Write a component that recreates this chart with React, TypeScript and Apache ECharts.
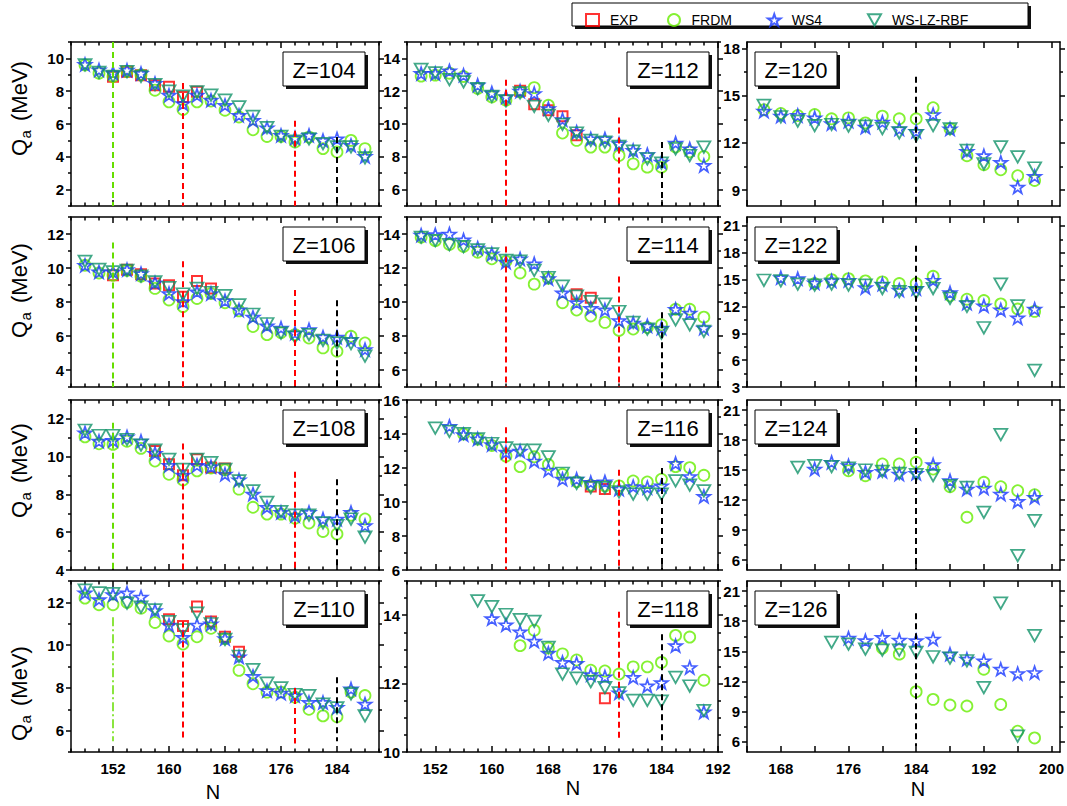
import React, { useEffect, useRef } from "react";
import * as echarts from "echarts";

// ---------------- data ----------------
const N_148_188 = [148, 150, 152, 154, 156, 158, 160, 162, 164, 166, 168, 170, 172, 174, 176, 178, 180, 182, 184, 186, 188];
const N_150_190 = [150, 152, 154, 156, 158, 160, 162, 164, 166, 168, 170, 172, 174, 176, 178, 180, 182, 184, 186, 188, 190];
const N_152_190 = [152, 154, 156, 158, 160, 162, 164, 166, 168, 170, 172, 174, 176, 178, 180, 182, 184, 186, 188, 190];
const N_158_190 = [158, 160, 162, 164, 166, 168, 170, 172, 174, 176, 178, 180, 182, 184, 186, 188, 190];
const N_166_198 = [166, 168, 170, 172, 174, 176, 178, 180, 182, 184, 186, 188, 190, 192, 194, 196, 198];
const N_170_198 = [170, 172, 174, 176, 178, 180, 182, 184, 186, 188, 190, 192, 194, 196, 198];
const N_174_198 = [174, 176, 178, 180, 182, 184, 186, 188, 190, 192, 194, 196, 198];

// Z = 104
const FRDM_104 = [9.6, 9.1, 8.9, 9.2, 9.0, 8.06, 7.35, 6.88, 7.35, 7.4, 6.84, 6.43, 5.65, 5.24, 5.24, 4.9, 5.2, 4.5, 4.29, 5.0, 4.5];
const WS4_104 = [9.63, 9.3, 9.12, 9.28, 9.08, 8.47, 7.76, 7.24, 7.76, 7.45, 7.14, 6.53, 6.22, 5.76, 5.31, 5.16, 5.31, 5.0, 5.1, 4.7, 4.02];
const LZ_104 = [9.6, 9.15, 8.9, 9.2, 8.9, 8.4, 8.0, 7.7, 7.96, 7.76, 7.45, 7.04, 6.47, 5.78, 5.24, 4.96, 5.1, 4.8, 4.6, 4.6, 3.94];
const EXP_N_104 = [152, 154, 156, 158, 160, 162, 164];
const EXP_104 = [8.88, 9.18, 8.98, 8.37, 8.27, 7.65, 7.96];

// Z = 106
const FRDM_106 = [10.16, 9.71, 9.57, 9.86, 9.51, 8.8, 8.12, 7.73, 8.21, 8.5, 7.96, 7.48, 6.56, 6.08, 6.2, 6.08, 5.88, 5.3, 5.1, 5.98, 5.59];
const WS4_106 = [10.16, 9.77, 9.77, 9.9, 9.67, 9.13, 8.5, 8.02, 8.6, 8.5, 8.08, 7.53, 7.11, 6.6, 6.47, 6.17, 6.37, 5.94, 5.94, 5.79, 5.2];
const LZ_106 = [10.39, 9.92, 9.77, 9.86, 9.53, 9.18, 8.85, 8.47, 8.8, 8.56, 8.37, 7.83, 7.28, 6.72, 6.17, 5.94, 6.08, 5.75, 5.59, 5.55, 4.82];
const EXP_N_106 = [152, 154, 156, 158, 160, 162, 164, 166];
const EXP_106 = [9.57, 9.9, 9.63, 9.09, 8.99, 8.31, 9.24, 8.8];

// Z = 108
const FRDM_108 = [11.05, 10.68, 10.65, 10.82, 10.44, 9.77, 9.07, 8.77, 9.25, 9.4, 9.3, 8.28, 7.32, 6.96, 6.96, 6.74, 6.49, 6.04, 5.91, 6.9, 6.7];
const WS4_108 = [11.26, 10.82, 10.86, 11.05, 10.82, 10.18, 9.54, 9.02, 9.54, 9.47, 9.07, 8.77, 8.02, 7.32, 7.05, 6.88, 7.05, 6.7, 6.7, 7.05, 6.35];
const LZ_108 = [11.4, 11.12, 11.12, 10.91, 10.61, 10.35, 9.86, 9.33, 9.86, 9.68, 9.33, 8.72, 8.19, 7.58, 7.09, 6.91, 6.91, 6.49, 6.35, 6.7, 5.74];
const EXP_N_108 = [158, 160, 162, 164, 166, 168];
const EXP_108 = [10.3, 9.6, 9.02, 9.86, 9.42, 9.37];

// Z = 110
const FRDM_110 = [12.2, 11.89, 11.89, 12.0, 11.73, 11.06, 10.43, 10.05, 10.39, 10.79, 10.3, 8.82, 8.19, 7.8, 7.8, 7.56, 7.0, 6.69, 6.65, 7.8, 7.64];
const WS4_110 = [12.44, 12.13, 12.36, 12.44, 12.25, 11.62, 10.94, 10.36, 10.94, 11.0, 10.31, 9.45, 8.54, 7.87, 7.75, 7.64, 7.32, 7.32, 7.09, 7.95, 7.24];
const LZ_110 = [12.57, 12.44, 12.41, 11.97, 11.78, 11.65, 11.1, 10.71, 11.5, 11.0, 10.27, 9.48, 8.85, 8.22, 8.0, 7.69, 7.64, 7.24, 7.06, 7.72, 6.69];
const EXP_N_110 = [160, 162, 164, 166, 168, 170];
const EXP_110 = [11.21, 10.9, 11.81, 11.1, 10.39, 9.69];

// Z = 112
const FRDM_112 = [12.92, 12.98, 13.1, 12.9, 12.16, 11.65, 11.45, 11.96, 12.22, 11.14, 9.45, 9.0, 8.59, 8.59, 8.08, 7.57, 7.37, 7.37, 8.6, 8.3, 8.02];
const WS4_112 = [13.08, 13.08, 13.24, 12.98, 12.37, 11.9, 11.65, 12.0, 11.86, 10.94, 10.27, 9.51, 9.1, 9.1, 8.8, 8.39, 8.14, 7.67, 8.84, 8.49, 7.47];
const LZ_112 = [13.33, 13.12, 12.71, 12.57, 12.16, 11.69, 11.41, 11.9, 11.08, 10.53, 9.98, 9.45, 9.0, 8.9, 8.63, 8.35, 7.88, 7.61, 8.49, 8.08, 8.59];
const EXP_N_112 = [164, 166, 168, 170, 172];
const EXP_112 = [12.02, 11.2, 10.84, 10.47, 9.31];

// Z = 114
const FRDM_114 = [13.81, 13.61, 13.38, 13.26, 12.93, 12.54, 12.4, 11.71, 11.05, 11.4, 9.96, 9.53, 9.18, 8.8, 8.33, 8.41, 8.5, 8.66, 9.57, 9.57, 9.11];
const WS4_114 = [13.94, 13.96, 14.0, 13.65, 13.17, 12.83, 12.35, 12.54, 12.25, 11.38, 10.54, 9.96, 9.63, 9.53, 8.91, 8.76, 8.6, 8.47, 9.57, 9.34, 8.47];
const LZ_114 = [13.81, 13.61, 13.38, 13.26, 13.07, 12.83, 12.45, 12.41, 11.86, 11.44, 10.93, 10.35, 10.02, 9.88, 9.44, 8.8, 8.41, 8.17, 8.95, 8.66, 8.27];
const EXP_N_114 = [172, 174];
const EXP_114 = [10.45, 10.25];

// Z = 116
const FRDM_116 = [null, null, 14.0, 13.7, 13.32, 12.7, 12.08, 12.66, 12.21, 11.63, 11.2, 10.99, 10.95, 10.95, 11.24, 11.18, 11.34, 12.08, 12.02, 11.57];
const WS4_116 = [null, 14.45, 13.96, 13.71, 13.38, 12.93, 12.99, 12.41, 11.88, 11.34, 11.34, 11.15, 11.19, 10.76, 10.91, 10.85, 10.95, 12.27, 11.5, 10.33];
const LZ_116 = [14.35, 14.16, 14.02, 13.71, 13.44, 13.18, 13.05, 13.05, 12.66, 11.69, 11.1, 10.85, 10.85, 10.6, 10.47, 10.47, 10.47, 11.24, 10.99, 10.66];
const EXP_N_116 = [174, 176];
const EXP_116 = [10.91, 10.76];

// Z = 118
const FRDM_118 = [null, null, null, 13.11, 13.56, 13.04, 12.87, 12.69, 12.39, 12.37, 12.28, 12.49, 12.49, 12.62, 13.41, 13.36, 12.1];
const WS4_118 = [null, 13.9, 13.72, 13.51, 13.24, 12.89, 12.62, 12.59, 12.26, 12.2, 11.73, 12.18, 11.93, 12.03, 13.11, 12.47, 11.17];
const LZ_118 = [14.42, 14.25, 14.02, 13.87, 13.82, 13.06, 12.28, 12.16, 12.06, 11.88, 11.73, 11.51, 11.51, 11.49, 12.18, 11.93, 11.21];
const EXP_N_118 = [176];
const EXP_118 = [11.57];

// Z = 120
const FRDM_120 = [14.1, 13.87, 13.74, 13.8, 13.53, 13.59, 13.27, 13.7, 13.53, 13.53, 14.23, 12.9, 11.19, 10.62, 10.3, 9.92, 9.62];
const WS4_120 = [14.02, 13.7, 13.74, 13.59, 13.23, 13.38, 13.0, 13.32, 12.89, 12.74, 13.8, 12.89, 11.47, 11.19, 10.77, 9.2, 9.88];
const LZ_120 = [14.38, 13.66, 13.38, 13.1, 13.17, 13.06, 13.06, 12.91, 12.64, 12.47, 13.1, 12.89, 11.53, 10.68, 11.75, 11.11, 10.41];

// Z = 122
const FRDM_122 = [null, null, null, 14.56, 15.0, 15.11, 14.86, 14.75, 14.56, 14.56, 15.37, 13.2, 12.81, 12.66, 12.29, 11.71, 11.45];
const WS4_122 = [null, 15.22, 15.11, 14.64, 14.86, 14.93, 14.12, 14.49, 13.83, 14.01, 14.93, 13.54, 12.37, 12.07, 11.63, 10.72, 11.71];
const LZ_122 = [14.93, 14.86, 14.49, 14.38, 14.49, 14.38, 14.38, 14.01, 13.65, 13.54, 14.01, 12.92, 12.0, 9.62, 14.49, 12.07, 4.86];

// Z = 124
const FRDM_124 = [null, null, null, 14.93, 14.43, 15.6, 15.6, 15.77, 15.1, 13.33, 10.27, 13.77, 13.33, 12.93, 12.53];
const WS4_124 = [null, 15.1, 15.77, 15.43, 14.77, 14.87, 14.6, 14.67, 15.53, 13.93, 13.1, 13.2, 12.6, 11.87, 12.27];
const LZ_124 = [15.27, 15.43, 15.33, 15.2, 15.0, 14.87, 14.67, 14.53, 14.43, 13.43, 13.27, 10.77, 18.53, 6.43, 9.93];

// Z = 126
const FRDM_126 = [null, null, null, 15.33, 14.73, 11.0, 10.23, 9.67, 9.57, 13.23, 9.73, 7.07, 6.4];
const WS4_126 = [null, 16.33, 16.07, 16.4, 16.13, 16.07, 16.23, 14.73, 14.23, 14.07, 13.23, 12.8, 12.9];
const LZ_126 = [15.9, 15.73, 15.23, 15.13, 15.13, 14.9, 14.47, 14.33, 14.07, 11.4, 19.8, 6.57, 16.57];

// axis ticks / labels
const X_MAJOR_1 = [152, 160, 168, 176, 184];
const X_MINOR_1 = [146, 148, 150, 154, 156, 158, 162, 164, 166, 170, 172, 174, 178, 180, 182, 186, 188, 190];
const X_MAJOR_2 = [152, 160, 168, 176, 184, 192];
const X_MINOR_2 = [148, 150, 154, 156, 158, 162, 164, 166, 170, 172, 174, 178, 180, 182, 186, 188, 190];
const X_MAJOR_3 = [168, 176, 184, 192, 200];
const X_MINOR_3 = [164, 172, 180, 188, 196];

const Y_MAJOR_104 = [2, 4, 6, 8, 10];
const Y_MINOR_104 = [1, 3, 5, 7, 9, 11];
const Y_MAJOR_106 = [4, 6, 8, 10, 12];
const Y_MINOR_106 = [3, 5, 7, 9, 11, 13];
const Y_MAJOR_108 = [4, 6, 8, 10, 12];
const Y_MINOR_108 = [5, 7, 9, 11, 13];
const Y_MAJOR_110 = [6, 8, 10, 12];
const Y_MINOR_110 = [5, 7, 9, 11, 13];
const Y_MAJOR_112 = [6, 8, 10, 12, 14];
const Y_MINOR_112 = [5, 7, 9, 11, 13, 15];
const Y_MAJOR_116 = [6, 8, 10, 12, 14, 16];
const Y_MINOR_116 = [7, 9, 11, 13, 15];
const Y_MAJOR_118 = [10, 12, 14];
const Y_MINOR_118 = [10.5, 11, 11.5, 12.5, 13, 13.5, 14.5, 15];
const Y_MAJOR_120 = [9, 12, 15, 18];
const Y_MINOR_120 = [10.5, 13.5, 16.5];
const Y_MAJOR_122 = [3, 6, 9, 12, 15, 18, 21];
const Y_MINOR_122 = [4.5, 7.5, 10.5, 13.5, 16.5, 19.5];
const Y_MAJOR_124 = [6, 9, 12, 15, 18, 21];
const Y_MINOR_124 = [7.5, 10.5, 13.5, 16.5, 19.5];

// ---------------- layout / style ----------------
const FONT = 'Arial, "Liberation Sans", Helvetica, sans-serif';
const C_EXP = "#ff0000";
const C_FRDM = "#66ee00";
const C_WS4 = "#1838ff";
const C_LZ = "#13946a";
const C_GREENLINE = "#66dd00";

const STAR = "path://M50,2 L61.5,36 L97,36 L68.5,57.5 L79,92 L50,71 L21,92 L31.5,57.5 L3,36 L38.5,36 Z";
const TRI = "path://M0,0 L100,0 L50,88 Z";

const COLS = [
  { left: 71, width: 308 },
  { left: 407, width: 311 },
  { left: 747, width: 313 },
];
const ROWS = [
  { top: 42, height: 164 },
  { top: 217, height: 170 },
  { top: 400, height: 170 },
  { top: 581, height: 171 },
];
const XCFG = [
  { min: 146, max: 190, major: X_MAJOR_1, minor: X_MINOR_1 },
  { min: 148, max: 192, major: X_MAJOR_2, minor: X_MINOR_2 },
  { min: 164, max: 201, major: X_MAJOR_3, minor: X_MINOR_3 },
];

type VLine = { n: number; from: number; to: number; kind: "green" | "greendd" | "red" | "black" };

const PANELS = [
  { z: 104, col: 0, row: 0, n: N_148_188, frdm: FRDM_104, ws4: WS4_104, lz: LZ_104, expN: EXP_N_104, exp: EXP_104, y: [1, 11], yMajor: Y_MAJOR_104, yMinor: Y_MINOR_104,
    lines: [{ n: 152, from: 11, to: 1, kind: "green" }, { n: 162, from: 8.5, to: 1, kind: "red" }, { n: 178, from: 6.2, to: 1, kind: "red" }, { n: 184, from: 5.2, to: 1, kind: "black" }] as VLine[] },
  { z: 106, col: 0, row: 1, n: N_148_188, frdm: FRDM_106, ws4: WS4_106, lz: LZ_106, expN: EXP_N_106, exp: EXP_106, y: [3, 13], yMajor: Y_MAJOR_106, yMinor: Y_MINOR_106,
    lines: [{ n: 152, from: 11.5, to: 3, kind: "green" }, { n: 162, from: 10.4, to: 3, kind: "red" }, { n: 178, from: 8.7, to: 3, kind: "red" }, { n: 184, from: 8.1, to: 3, kind: "black" }] as VLine[] },
  { z: 108, col: 0, row: 2, n: N_148_188, frdm: FRDM_108, ws4: WS4_108, lz: LZ_108, expN: EXP_N_108, exp: EXP_108, y: [4, 13], yMajor: Y_MAJOR_108, yMinor: Y_MINOR_108,
    lines: [{ n: 152, from: 11.8, to: 4, kind: "green" }, { n: 162, from: 10.7, to: 4, kind: "red" }, { n: 178, from: 9.2, to: 4, kind: "red" }, { n: 184, from: 8.8, to: 4, kind: "black" }] as VLine[] },
  { z: 110, col: 0, row: 3, n: N_148_188, frdm: FRDM_110, ws4: WS4_110, lz: LZ_110, expN: EXP_N_110, exp: EXP_110, y: [5, 13], yMajor: Y_MAJOR_110, yMinor: Y_MINOR_110,
    lines: [{ n: 152, from: 11.3, to: 5.5, kind: "greendd" }, { n: 162, from: 11.1, to: 5.5, kind: "red" }, { n: 178, from: 8.0, to: 5.4, kind: "red" }, { n: 184, from: 8.5, to: 5.5, kind: "black" }] as VLine[] },
  { z: 112, col: 1, row: 0, n: N_150_190, frdm: FRDM_112, ws4: WS4_112, lz: LZ_112, expN: EXP_N_112, exp: EXP_112, y: [5, 15], yMajor: Y_MAJOR_112, yMinor: Y_MINOR_112,
    lines: [{ n: 162, from: 12.7, to: 5, kind: "red" }, { n: 178, from: 10.4, to: 5, kind: "red" }, { n: 184, from: 8.9, to: 5, kind: "black" }] as VLine[] },
  { z: 114, col: 1, row: 1, n: N_150_190, frdm: FRDM_114, ws4: WS4_114, lz: LZ_114, expN: EXP_N_114, exp: EXP_114, y: [5, 15], yMajor: Y_MAJOR_112, yMinor: Y_MINOR_112,
    lines: [{ n: 162, from: 13.26, to: 5, kind: "red" }, { n: 178, from: 11.5, to: 5, kind: "red" }, { n: 184, from: 9.4, to: 5, kind: "black" }] as VLine[] },
  { z: 116, col: 1, row: 2, n: N_152_190, frdm: FRDM_116, ws4: WS4_116, lz: LZ_116, expN: EXP_N_116, exp: EXP_116, y: [6, 16], yMajor: Y_MAJOR_116, yMinor: Y_MINOR_116,
    lines: [{ n: 162, from: 14.4, to: 6, kind: "red" }, { n: 178, from: 11.9, to: 6, kind: "red" }, { n: 184, from: 12.0, to: 6, kind: "black" }] as VLine[] },
  { z: 118, col: 1, row: 3, n: N_158_190, frdm: FRDM_118, ws4: WS4_118, lz: LZ_118, expN: EXP_N_118, exp: EXP_118, y: [10, 15], yMajor: Y_MAJOR_118, yMinor: Y_MINOR_118,
    lines: [{ n: 178, from: 14.1, to: 10.3, kind: "red" }, { n: 184, from: 13.44, to: 10.3, kind: "black" }] as VLine[] },
  { z: 120, col: 2, row: 0, n: N_166_198, frdm: FRDM_120, ws4: WS4_120, lz: LZ_120, expN: [], exp: [], y: [8, 18.4], yMajor: Y_MAJOR_120, yMinor: Y_MINOR_120,
    lines: [{ n: 184, from: 16.2, to: 8, kind: "black" }] as VLine[] },
  { z: 122, col: 2, row: 1, n: N_166_198, frdm: FRDM_122, ws4: WS4_122, lz: LZ_122, expN: [], exp: [], y: [3, 22], yMajor: Y_MAJOR_122, yMinor: Y_MINOR_122,
    lines: [{ n: 184, from: 18.8, to: 3, kind: "black" }] as VLine[] },
  { z: 124, col: 2, row: 2, n: N_170_198, frdm: FRDM_124, ws4: WS4_124, lz: LZ_124, expN: [], exp: [], y: [5, 22], yMajor: Y_MAJOR_124, yMinor: Y_MINOR_124,
    lines: [{ n: 184, from: 19.2, to: 5, kind: "black" }] as VLine[] },
  { z: 126, col: 2, row: 3, n: N_174_198, frdm: FRDM_126, ws4: WS4_126, lz: LZ_126, expN: [], exp: [], y: [5, 22], yMajor: Y_MAJOR_124, yMinor: Y_MINOR_124,
    lines: [{ n: 184, from: 18.8, to: 5.6, kind: "black" }] as VLine[] },
];

const LINE_STYLES: Record<string, any> = {
  green: { color: C_GREENLINE, width: 2, type: [6, 4] },
  greendd: { color: C_GREENLINE, width: 1.5, type: [9, 3, 2, 3] },
  red: { color: "#ff0000", width: 2, type: [6, 4] },
  black: { color: "#000000", width: 2, type: [6, 4] },
};

const Q_CENTERS = [108, 290, 470, 693];
const N_TITLES = [{ x: 213, y: 792 }, { x: 573, y: 788 }, { x: 918, y: 789 }];
const LEGEND_ITEMS = [
  { name: "EXP", left: 580, color: C_EXP, icon: "rect" },
  { name: "FRDM", left: 662, color: C_FRDM, icon: "circle" },
  { name: "WS4", left: 762, color: C_WS4, icon: STAR },
  { name: "WS-LZ-RBF", left: 862, color: C_LZ, icon: TRI },
];

function pairs(n: number[], v: (number | null)[]) {
  const out: number[][] = [];
  n.forEach((x, i) => {
    const y = v[i];
    if (y !== null && y !== undefined) out.push([x, y]);
  });
  return out;
}

function buildOption() {
  const grid: any[] = [];
  const xAxis: any[] = [];
  const yAxis: any[] = [];
  const series: any[] = [];
  const graphic: any[] = [];
  const axisColor = { color: "#000", width: 1.5 };
  const labelFont = { color: "#000", fontSize: 15, fontWeight: "bold", fontFamily: FONT };

  PANELS.forEach((p, i) => {
    const c = COLS[p.col];
    const r = ROWS[p.row];
    const xc = XCFG[p.col];
    grid.push({ left: c.left, top: r.top, width: c.width, height: r.height, containLabel: false });
    const xb = { gridIndex: i, type: "value", min: xc.min, max: xc.max, splitLine: { show: false }, axisPointer: { show: false } };
    xAxis.push({ ...xb, position: "bottom",
      axisLine: { show: true, onZero: false, lineStyle: axisColor },
      axisTick: { show: true, inside: true, length: 6, customValues: xc.major, lineStyle: axisColor },
      axisLabel: { show: p.row === 3, customValues: xc.major, margin: 9, ...labelFont } });
    xAxis.push({ ...xb, position: "bottom", axisLine: { show: false, onZero: false },
      axisTick: { show: true, inside: true, length: p.col === 2 ? 6 : 3.5, customValues: xc.minor, lineStyle: axisColor },
      axisLabel: { show: false } });
    xAxis.push({ ...xb, position: "top", axisLine: { show: true, onZero: false, lineStyle: axisColor },
      axisTick: { show: true, inside: true, length: 6, customValues: xc.major, lineStyle: axisColor },
      axisLabel: { show: false } });
    xAxis.push({ ...xb, position: "top", axisLine: { show: false, onZero: false },
      axisTick: { show: true, inside: true, length: p.col === 2 ? 6 : 3.5, customValues: xc.minor, lineStyle: axisColor },
      axisLabel: { show: false } });

    const yb = { gridIndex: i, type: "value", min: p.y[0], max: p.y[1], splitLine: { show: false }, axisPointer: { show: false } };
    yAxis.push({ ...yb, position: "left", axisLine: { show: true, onZero: false, lineStyle: axisColor },
      axisTick: { show: true, inside: false, length: 5, customValues: p.yMajor, lineStyle: axisColor },
      axisLabel: { show: true, customValues: p.yMajor, margin: 7, ...labelFont } });
    yAxis.push({ ...yb, position: "left", axisLine: { show: false, onZero: false },
      axisTick: { show: true, inside: false, length: 3, customValues: p.yMinor, lineStyle: axisColor },
      axisLabel: { show: false } });
    yAxis.push({ ...yb, position: "right", axisLine: { show: true, onZero: false, lineStyle: axisColor },
      axisTick: { show: true, inside: false, length: 5, customValues: p.yMajor, lineStyle: axisColor },
      axisLabel: { show: false } });
    yAxis.push({ ...yb, position: "right", axisLine: { show: false, onZero: false },
      axisTick: { show: true, inside: false, length: 3, customValues: p.yMinor, lineStyle: axisColor },
      axisLabel: { show: false } });

    const ax = { xAxisIndex: i * 4, yAxisIndex: i * 4 };
    series.push({ type: "scatter", name: "EXP", ...ax, data: pairs(p.expN, p.exp), symbol: "rect", symbolSize: 10,
      itemStyle: { color: "transparent", borderColor: C_EXP, borderWidth: 2 }, silent: true, z: 2 });
    series.push({ type: "scatter", name: "FRDM", ...ax, data: pairs(p.n, p.frdm), symbol: "circle", symbolSize: 11,
      itemStyle: { color: "transparent", borderColor: C_FRDM, borderWidth: 1.8 }, silent: true, z: 3 });
    series.push({ type: "scatter", name: "WS4", ...ax, data: pairs(p.n, p.ws4), symbol: STAR, symbolSize: 13, symbolKeepAspect: true,
      itemStyle: { color: "transparent", borderColor: C_WS4, borderWidth: 1.7 }, silent: true, z: 4 });
    series.push({ type: "scatter", name: "WS-LZ-RBF", ...ax, data: pairs(p.n, p.lz), symbol: TRI, symbolSize: [13, 11.5], symbolKeepAspect: false,
      itemStyle: { color: "transparent", borderColor: C_LZ, borderWidth: 1.8 }, silent: true, z: 5,
      markLine: { silent: true, symbol: ["none", "none"], label: { show: false }, z: 6,
        data: p.lines.map((l) => [
          { coord: [l.n, l.from], lineStyle: LINE_STYLES[l.kind] },
          { coord: [l.n, l.to] },
        ]) } });

    // Z label box
    const bw = 82, bh = 34;
    const bx = p.col === 2 ? c.left + 8 : c.left + c.width - (p.col === 0 ? 96 : 91);
    const by = r.top + 10;
    graphic.push({ type: "rect", z: 50, shape: { x: bx + 3, y: by + 3, width: bw, height: bh }, style: { fill: "#111" }, silent: true });
    graphic.push({ type: "rect", z: 51, shape: { x: bx, y: by, width: bw, height: bh }, style: { fill: "#fff", stroke: "#000", lineWidth: 1 }, silent: true });
    graphic.push({ type: "text", z: 52, x: bx + bw / 2, y: by + bh / 2 + 1, silent: true,
      style: { text: "Z=" + p.z, fill: "#000", font: "22px " + FONT, textAlign: "center", textVerticalAlign: "middle" } });
  });

  // y axis titles
  Q_CENTERS.forEach((cy) => {
    graphic.push({ type: "group", x: 19, y: cy, rotation: Math.PI / 2, silent: true, children: [
      { type: "text", x: -48, y: 0, style: { text: "Q", fill: "#000", font: "22px " + FONT, textVerticalAlign: "middle" } },
      { type: "text", x: -30.5, y: 6, style: { text: "a", fill: "#000", font: "15px " + FONT, textVerticalAlign: "middle" } },
      { type: "text", x: -13, y: 0, style: { text: "(MeV)", fill: "#000", font: "22px " + FONT, textVerticalAlign: "middle" } },
    ] });
  });
  N_TITLES.forEach((t) => {
    graphic.push({ type: "text", x: t.x, y: t.y, silent: true,
      style: { text: "N", fill: "#000", font: "20px " + FONT, textAlign: "center", textVerticalAlign: "middle" } });
  });

  // legend frame
  graphic.push({ type: "rect", z: 1, shape: { x: 575, y: 6, width: 456, height: 23 }, style: { fill: "#111" }, silent: true });
  graphic.push({ type: "rect", z: 2, shape: { x: 572, y: 3, width: 456, height: 23 }, style: { fill: "#fff", stroke: "#000", lineWidth: 1 }, silent: true });

  const legend = LEGEND_ITEMS.map((it) => ({
    left: it.left, top: 8, itemWidth: 13, itemHeight: 12, selectedMode: false, z: 20,
    textStyle: { color: "#000", fontSize: 14, fontFamily: FONT, padding: [0, 0, 0, 6] },
    data: [{ name: it.name, icon: it.icon, itemStyle: { color: "transparent", borderColor: it.color, borderWidth: 2 } }],
  }));

  return {
    animation: false,
    backgroundColor: "#fff",
    textStyle: { fontFamily: FONT },
    grid, xAxis, yAxis, series, graphic, legend,
  };
}

export default function App() {
  const ref = useRef<HTMLDivElement>(null);
  useEffect(() => {
    if (!ref.current) return;
    const chart = echarts.init(ref.current, null, { renderer: "svg" });
    chart.setOption(buildOption() as any);
    return () => chart.dispose();
  }, []);
  return <div ref={ref} style={{ position: "fixed", left: 0, top: 0, width: 1067, height: 806, background: "#fff" }} />;
}
